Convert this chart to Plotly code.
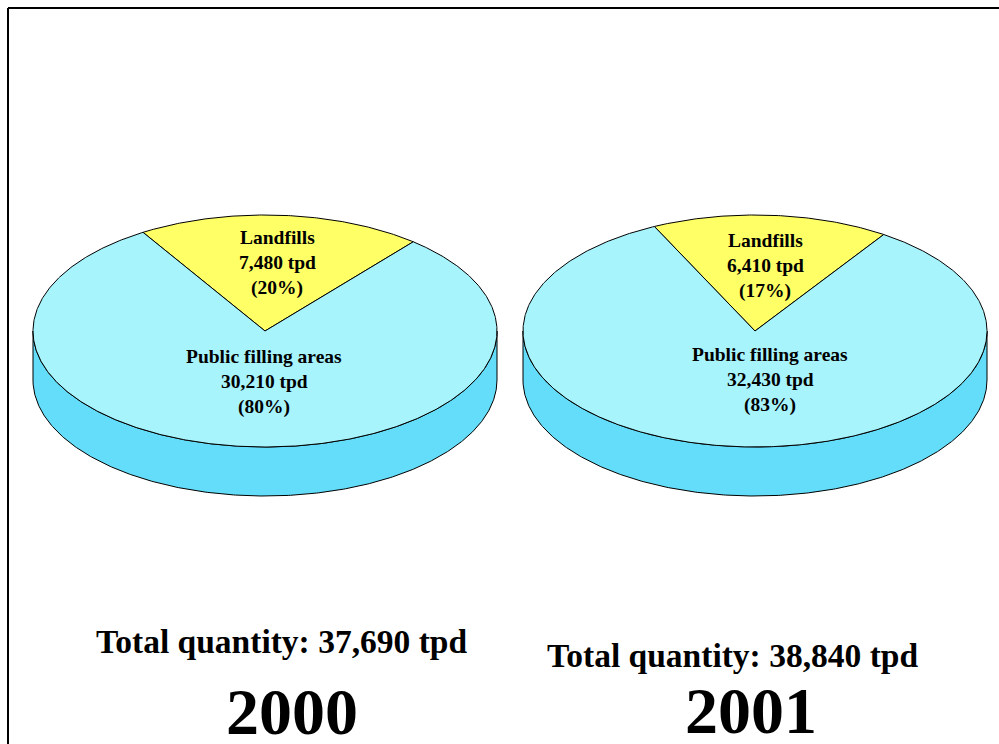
import numpy as np
import plotly.graph_objects as go

# ---- data ----
years = ["2000", "2001"]
categories = ["Landfills", "Public filling areas"]
landfills_tpd = [7480, 6410]
public_filling_tpd = [30210, 32430]
totals_tpd = [37690, 38840]

# ---- style / layout constants (pixels) ----
W, H = 999, 744
TOP_COLORS = ["#FFFF66", "#A8F4FD"]
SIDE_COLORS = ["#E5E55C", "#63DDF9"]
centers = [(265, 331), (755, 331)]
RX, RY, DEPTH = 232, 116, 49
MID_ANGLE = 86.0  # angle (deg) on which the first slice is centred
FONT = "Liberation Serif, Times New Roman, serif"

fig = go.Figure()


def arc(cx, cy, a0, a1, dy=0.0, n=None):
    if n is None:
        n = max(int(abs(a1 - a0) * 2), 2)
    t = np.radians(np.linspace(a0, a1, n))
    return cx + RX * np.cos(t), cy - RY * np.sin(t) + dy


def add_poly(xs, ys, color):
    fig.add_trace(go.Scatter(
        x=np.append(xs, xs[0]), y=np.append(ys, ys[0]), mode="lines",
        fill="toself", fillcolor=color, line=dict(color="black", width=1),
        hoverinfo="skip", showlegend=False))


for i in range(len(years)):
    cx, cy = centers[i]
    vals = [landfills_tpd[i], public_filling_tpd[i]]
    tot = sum(vals)
    spans = [v / tot * 360.0 for v in vals]
    start = MID_ANGLE - spans[0] / 2.0
    slices = []
    a = start
    for s in spans:
        slices.append((a, a + s))
        a += s

    # side walls (front half: angles 180..360)
    for k, (a0, a1) in enumerate(slices):
        for off in (-360, 0, 360):
            s0 = max(a0, 180 + off)
            s1 = min(a1, 360 + off)
            if s1 > s0:
                tx, ty = arc(cx, cy, s0, s1)
                bx, by = arc(cx, cy, s1, s0, dy=DEPTH)
                add_poly(np.concatenate([tx, bx]), np.concatenate([ty, by]),
                         SIDE_COLORS[k])

    # top faces
    for k, (a0, a1) in enumerate(slices):
        tx, ty = arc(cx, cy, a0, a1)
        add_poly(np.concatenate([[cx], tx]), np.concatenate([[cy], ty]),
                 TOP_COLORS[k])

# ---- labels ----
label_pos = {
    0: [(277, 244), (264, 363)],
    1: [(765, 247), (770, 361)],
}
LS = 25
FS = 19.5
ann = []
for i in range(len(years)):
    vals = [landfills_tpd[i], public_filling_tpd[i]]
    tot = totals_tpd[i]
    for k, cat in enumerate(categories):
        pct = int(np.floor(vals[k] / tot * 100 + 0.5))
        lines = [cat, f"{vals[k]:,} tpd", f"({pct}%)"]
        x0, yb = label_pos[i][k]
        for j, ln in enumerate(lines):
            ann.append(dict(x=x0, y=yb + j * LS - 0.33 * FS, xref="x", yref="y",
                            text=f"<b>{ln}</b>", showarrow=False,
                            xanchor="center", yanchor="middle",
                            font=dict(family=FONT, size=FS, color="black")))

TFS = 33.5
YFS = 66
total_pos = [(281, 653), (732, 667)]
year_pos = [(292, 733), (751, 732)]
for i in range(len(years)):
    ann.append(dict(x=total_pos[i][0], y=total_pos[i][1] - 0.33 * TFS, xref="x", yref="y",
                    text=f"<b>Total quantity: {totals_tpd[i]:,} tpd</b>",
                    showarrow=False, xanchor="center", yanchor="middle",
                    font=dict(family=FONT, size=TFS, color="black")))
    ann.append(dict(x=year_pos[i][0], y=year_pos[i][1] - 0.33 * YFS, xref="x", yref="y",
                    text=f"<b>{years[i]}</b>", showarrow=False,
                    xanchor="center", yanchor="middle",
                    font=dict(family=FONT, size=YFS, color="black")))

fig.update_layout(
    width=W, height=H, margin=dict(l=0, r=0, t=0, b=0),
    paper_bgcolor="white", plot_bgcolor="white",
    xaxis=dict(range=[0, W], visible=False, fixedrange=True),
    yaxis=dict(range=[H, 0], visible=False, fixedrange=True),
    annotations=ann,
    shapes=[
        dict(type="line", xref="x", yref="y", x0=8, x1=W, y0=8, y1=8,
             line=dict(color="black", width=2)),
        dict(type="line", xref="x", yref="y", x0=8, x1=8, y0=8, y1=H,
             line=dict(color="black", width=2)),
    ],
    showlegend=False,
)

fig.write_html("out.html")
